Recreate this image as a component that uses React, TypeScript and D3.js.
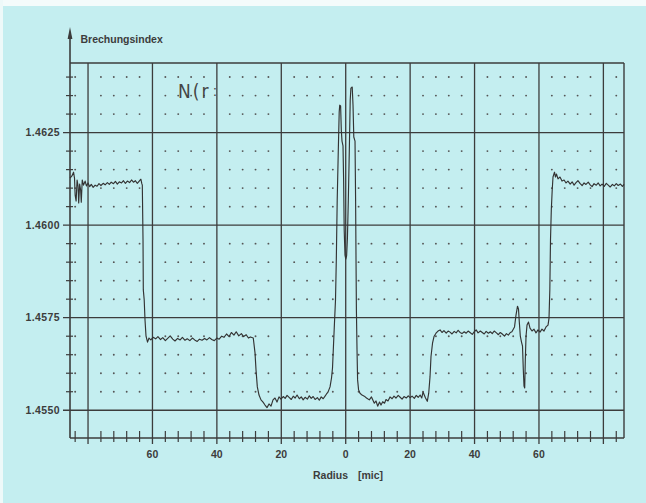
import React from 'react';
import * as d3 from 'd3';

// Refractive-index profile: [radius (mic, signed), index]
const leftEdge: [number, number][] = [
  [-85.6, 1.46127], [-85.0, 1.46133], [-84.5, 1.46143], [-84.2, 1.46127], [-84.0, 1.46081],
  [-83.7, 1.46065], [-83.4, 1.46122], [-83.1, 1.46106], [-82.9, 1.4606], [-82.6, 1.46111],
  [-82.3, 1.46095], [-82.1, 1.46062], [-81.8, 1.46122], [-81.4, 1.46108], [-80.9, 1.46119],
  [-80.5, 1.46106], [-80.0, 1.46114],
];
const leftCladding: [number, number][] = [
  [-79.5, 1.46104], [-79, 1.4611], [-78.4, 1.46102], [-77.8, 1.46108], [-77.2, 1.46105],
  [-76.6, 1.46112], [-76, 1.46107], [-75.3, 1.46113], [-74.7, 1.46109], [-74, 1.46115],
  [-73.4, 1.4611], [-72.8, 1.46116], [-72.1, 1.46112], [-71.5, 1.46118], [-70.9, 1.46111],
  [-70.3, 1.46117], [-69.6, 1.46114], [-69, 1.4612], [-68.4, 1.46113], [-67.8, 1.46119],
  [-67.1, 1.46115], [-66.5, 1.46122], [-65.9, 1.46116], [-65.3, 1.4612], [-64.7, 1.46113],
  [-64.1, 1.46119], [-63.6, 1.46124], [-63.3, 1.46112],
  [-63.15, 1.46108], [-62.93, 1.4596], [-62.84, 1.45825], [-62.56, 1.45798], [-62.31, 1.45744],
  [-62.0, 1.457], [-61.53, 1.45684], [-61.07, 1.45695],
];
const leftRing: [number, number][] = [
  [-60.5, 1.4569], [-59.8, 1.45697], [-59.0, 1.45693], [-58.3, 1.45699], [-57.5, 1.45691],
  [-56.8, 1.45696], [-56.0, 1.45688], [-55.2, 1.45695], [-54.5, 1.45701], [-53.7, 1.45692],
  [-53.0, 1.45687], [-52.2, 1.45694], [-51.4, 1.4569], [-50.7, 1.45697], [-49.9, 1.45689],
  [-49.2, 1.45693], [-48.4, 1.45688], [-47.6, 1.45695], [-46.9, 1.4569], [-46.1, 1.45686],
  [-45.4, 1.45692], [-44.6, 1.45689], [-43.8, 1.45694], [-43.1, 1.4569], [-42.3, 1.45696],
  [-41.6, 1.45691], [-40.8, 1.45688], [-40.0, 1.45695], [-39.3, 1.45692], [-38.5, 1.457],
  [-37.8, 1.45697], [-37.0, 1.45706], [-36.2, 1.45699], [-35.5, 1.4571], [-34.7, 1.45703],
  [-34.0, 1.45712], [-33.2, 1.45701], [-32.4, 1.45707], [-31.7, 1.45699], [-30.9, 1.45704],
  [-30.2, 1.45695], [-29.6, 1.45698],
  [-28.7, 1.45695], [-28.16, 1.45655], [-27.85, 1.45609], [-27.44, 1.45563], [-26.92, 1.45541],
  [-26.3, 1.45528], [-25.67, 1.45522], [-25.05, 1.45514], [-24.43, 1.45507], [-23.81, 1.45517],
  [-23.19, 1.45511], [-22.57, 1.45528], [-21.95, 1.45533], [-21.33, 1.45522], [-20.71, 1.45536],
  [-20.1, 1.4553],
];
const leftTrench: [number, number][] = [
  [-19.4, 1.45537], [-18.8, 1.45532], [-18.2, 1.4554], [-17.5, 1.45534], [-16.9, 1.45529],
  [-16.3, 1.45538], [-15.7, 1.45533], [-15.1, 1.45541], [-14.4, 1.45531], [-13.8, 1.45536],
  [-13.2, 1.45528], [-12.6, 1.45535], [-11.9, 1.4553], [-11.3, 1.45539], [-10.7, 1.45532],
  [-10.1, 1.45537], [-9.5, 1.45529], [-8.8, 1.45534], [-8.2, 1.45527], [-7.6, 1.45536],
  [-7.0, 1.45531],
];
const core: [number, number][] = [
  [-6.58, 1.45536], [-5.96, 1.45544], [-5.5, 1.45549], [-4.87, 1.45563], [-4.41, 1.45587],
  [-4.1, 1.45614], [-3.79, 1.45676], [-3.48, 1.45738], [-3.17, 1.45798], [-2.92, 1.45906],
  [-2.64, 1.46068], [-2.3, 1.46203], [-2.02, 1.46306], [-1.86, 1.46324], [-1.58, 1.46322],
  [-1.37, 1.46257], [-1.15, 1.46227], [-0.84, 1.46214], [-0.65, 1.46122], [-0.47, 1.45987],
  [-0.22, 1.45919], [0.03, 1.45908], [0.28, 1.45917], [0.53, 1.45965], [0.81, 1.46068],
  [1.12, 1.46203], [1.4, 1.46338], [1.61, 1.4637], [2.02, 1.46373], [2.27, 1.46324],
  [2.51, 1.46238], [2.89, 1.46227], [3.07, 1.46068], [3.2, 1.45906], [3.32, 1.45771],
  [3.51, 1.45663], [3.69, 1.45582], [4.0, 1.45555], [4.44, 1.45546],
];
const rightTrench: [number, number][] = [
  [5.06, 1.45541], [5.77, 1.45538], [6.46, 1.45533], [7.33, 1.45528], [8.0, 1.45536],
  [8.88, 1.45519], [9.4, 1.45525], [9.93, 1.45511], [10.5, 1.45522], [10.96, 1.45514],
  [11.49, 1.45523], [12.05, 1.45519], [12.51, 1.45529], [13.13, 1.45525], [13.75, 1.45536],
  [14.4, 1.45531], [15.0, 1.45538], [15.6, 1.45533], [16.3, 1.4554], [16.9, 1.45535],
  [17.5, 1.4553], [18.1, 1.45537], [18.8, 1.45533], [19.4, 1.45539], [20.0, 1.45534],
  [20.6, 1.45538], [21.3, 1.45532], [21.9, 1.4554], [22.5, 1.45535], [23.1, 1.45541],
  [23.6, 1.45533], [24.0, 1.45549], [24.78, 1.45533], [25.33, 1.45524],
  [25.77, 1.45546], [26.17, 1.4559], [26.48, 1.45645], [26.95, 1.45681], [27.41, 1.45699],
  [28.03, 1.45708], [28.66, 1.45714],
];
const rightRing: [number, number][] = [
  [29.3, 1.45717], [29.9, 1.4571], [30.5, 1.45715], [31.2, 1.45708], [31.8, 1.45714],
  [32.4, 1.45711], [33.0, 1.45706], [33.7, 1.45713], [34.3, 1.45709], [34.9, 1.45716],
  [35.5, 1.4571], [36.1, 1.45707], [36.8, 1.45712], [37.4, 1.45708], [38.0, 1.45714],
  [38.6, 1.4571], [39.3, 1.45705], [39.9, 1.45712], [40.5, 1.45717], [41.1, 1.45709],
  [41.8, 1.45714], [42.4, 1.4571], [43.0, 1.45706], [43.6, 1.45713], [44.3, 1.45708],
  [44.9, 1.45712], [45.5, 1.45707], [46.1, 1.45714], [46.8, 1.45709], [47.4, 1.45704],
  [48.0, 1.4571], [48.6, 1.45706], [49.3, 1.457], [49.9, 1.45707], [50.5, 1.45703],
  [51.1, 1.4571], [51.6, 1.45712],
  [52.41, 1.45725], [52.87, 1.45757], [53.34, 1.45781], [53.65, 1.45773], [53.9, 1.45738],
  [54.21, 1.457], [54.58, 1.45684], [54.89, 1.45673], [55.14, 1.45609], [55.36, 1.45565],
  [55.57, 1.4556], [55.76, 1.45636], [55.98, 1.457], [56.29, 1.4573], [56.75, 1.45738],
  [57.22, 1.45722], [57.84, 1.45714], [58.46, 1.45719], [59.08, 1.45709], [59.7, 1.45717],
  [60.32, 1.45711], [60.94, 1.45719], [61.56, 1.45714], [62.19, 1.45725], [62.81, 1.4573],
];
const rightCladding: [number, number][] = [
  [63.12, 1.45749], [63.37, 1.45825], [63.58, 1.4596], [63.83, 1.46041], [64.11, 1.46095],
  [64.36, 1.4613], [64.82, 1.46143], [65.13, 1.4613], [65.45, 1.46138], [65.91, 1.46125],
  [66.53, 1.4613], [67.15, 1.46119],
  [67.8, 1.46122], [68.4, 1.46114], [69.0, 1.46119], [69.7, 1.46111], [70.3, 1.46117],
  [70.9, 1.46108], [71.5, 1.46115], [72.1, 1.4612], [72.8, 1.46112], [73.4, 1.46107],
  [74.0, 1.46114], [74.6, 1.4611], [75.3, 1.46116], [75.9, 1.46109], [76.5, 1.46104],
  [77.1, 1.46112], [77.8, 1.46108], [78.4, 1.46114], [79.0, 1.46106], [79.6, 1.46111],
  [80.3, 1.46105], [80.9, 1.46113], [81.5, 1.46108], [82.1, 1.46103], [82.8, 1.4611],
  [83.4, 1.46106], [84.0, 1.46112], [84.6, 1.46107], [85.3, 1.46111], [85.9, 1.46105],
  [86.4, 1.4611],
];

const xGridValues = [-80, -60, -40, -20, 0, 20, 40, 60, 80];
const xLabelValues = [-60, -40, -20, 0, 20, 40, 60];
const yGridValues = [1.455, 1.4575, 1.46, 1.4625];
const yTickLabels = ['1.4550', '1.4575', '1.4600', '1.4625'];
const yAxisTitle = 'Brechungsindex';
const xAxisTitle = 'Radius';
const xAxisUnit = '[mic]';
const noteText = 'N(r';

const FONT = '"Liberation Sans", Arial, Helvetica, sans-serif';
const INK = '#3c3c3c';
const BG = '#c4eef0';

export default function App() {
  const W = 646;
  const H = 503;
  const x = d3.scaleLinear().domain([-85.6, 86.4]).range([70, 624]);
  const y = d3.scaleLinear().domain([1.45425, 1.46438]).range([438, 63]);
  const data = [
    ...leftEdge, ...leftCladding, ...leftRing, ...leftTrench, ...core,
    ...rightTrench, ...rightRing, ...rightCladding,
  ];
  const line = d3
    .line<[number, number]>()
    .x((d) => x(d[0]))
    .y((d) => y(d[1]));

  const [x0, x1] = x.range();
  const [yb, yt] = y.range();

  const minorX = d3.range(-84, 85, 4).filter((v) => v % 20 !== 0);
  const minorYk = d3.range(2911, 2929).filter((k) => k % 5 !== 0);
  const dots: [number, number][] = [];
  minorX.forEach((r) => minorYk.forEach((k) => dots.push([r, k * 0.0005])));

  return (
    <svg
      width={W}
      height={H}
      style={{ position: 'fixed', left: 0, top: 0, display: 'block' }}
    >
      <rect x={0} y={0} width={W} height={H} fill={BG} />
      <rect x={0} y={0} width={W} height={6} fill="#f4fbfb" />
      <rect x={0} y={0} width={3} height={H} fill="#eef9f9" />

      {/* dot grid */}
      {dots.map(([r, n], i) => (
        <circle key={i} cx={x(r)} cy={y(n)} r={0.95} fill="#555" />
      ))}

      {/* horizontal grid */}
      {yGridValues.map((v) => (
        <line key={v} x1={x0 - 7} x2={x1} y1={y(v)} y2={y(v)} stroke={INK} strokeWidth={1.3} />
      ))}
      <line x1={x0} x2={x1} y1={yt} y2={yt} stroke={INK} strokeWidth={1.4} />

      {/* vertical grid */}
      {xGridValues.map((v) => (
        <line key={v} x1={x(v)} x2={x(v)} y1={yt} y2={yb + 6} stroke={INK} strokeWidth={1.3} />
      ))}
      <line x1={x1} x2={x1} y1={yt} y2={yb} stroke={INK} strokeWidth={1.4} />

      {/* axes */}
      <line x1={x0} x2={x1} y1={yb} y2={yb} stroke={INK} strokeWidth={1.6} />
      <line x1={x0} x2={x0} y1={yb} y2={34} stroke={INK} strokeWidth={1.6} />
      <path d={`M${x0},27 L${x0 - 2.4},39 L${x0 + 2.4},39 Z`} fill={INK} />

      {/* minor ticks */}
      {minorX.map((r) => (
        <line key={r} x1={x(r)} x2={x(r)} y1={yb - 7} y2={yb + 4} stroke={INK} strokeWidth={1.2} />
      ))}
      {minorYk.map((k) => (
        <line key={k} x1={x0 - 4} x2={x0 + 3} y1={y(k * 0.0005)} y2={y(k * 0.0005)} stroke={INK} strokeWidth={1.2} />
      ))}

      {/* curve */}
      <path d={line(data) ?? ''} fill="none" stroke="#333" strokeWidth={1.15} strokeLinejoin="round" />

      {/* labels */}
      {xLabelValues.map((v) => (
        <text
          key={v}
          x={x(v)}
          y={457.5}
          textAnchor="middle"
          fontFamily={FONT}
          fontWeight="bold"
          fontSize={10.5}
          fill={INK}
        >
          {Math.abs(v)}
        </text>
      ))}
      {yTickLabels.map((t, i) => (
        <text
          key={t}
          x={60}
          y={y(yGridValues[i]) + 3.8}
          textAnchor="end"
          fontFamily={FONT}
          fontWeight="bold"
          fontSize={10.5}
          letterSpacing={0.4}
          fill={INK}
        >
          {t}
        </text>
      ))}
      <text x={80.5} y={43} fontFamily={FONT} fontWeight="bold" fontSize={10.5} fill={INK}>
        {yAxisTitle}
      </text>
      <text x={313} y={479} fontFamily={FONT} fontWeight="bold" fontSize={10.5} fill={INK}>
        {xAxisTitle}
      </text>
      <text x={383} y={479} textAnchor="end" fontFamily={FONT} fontWeight="bold" fontSize={10.5} fill={INK}>
        {xAxisUnit}
      </text>
      <text
        x={178}
        y={98}
        fontFamily='"DejaVu Sans Condensed", "DejaVu Sans", sans-serif'
        fontWeight="normal"
        fontSize={19}
        letterSpacing={2}
        fill="#454545"
      >
        {noteText}
      </text>
      <text x={213} y={96} fontFamily={FONT} fontSize={14} fill="#454545">:</text>
    </svg>
  );
}
